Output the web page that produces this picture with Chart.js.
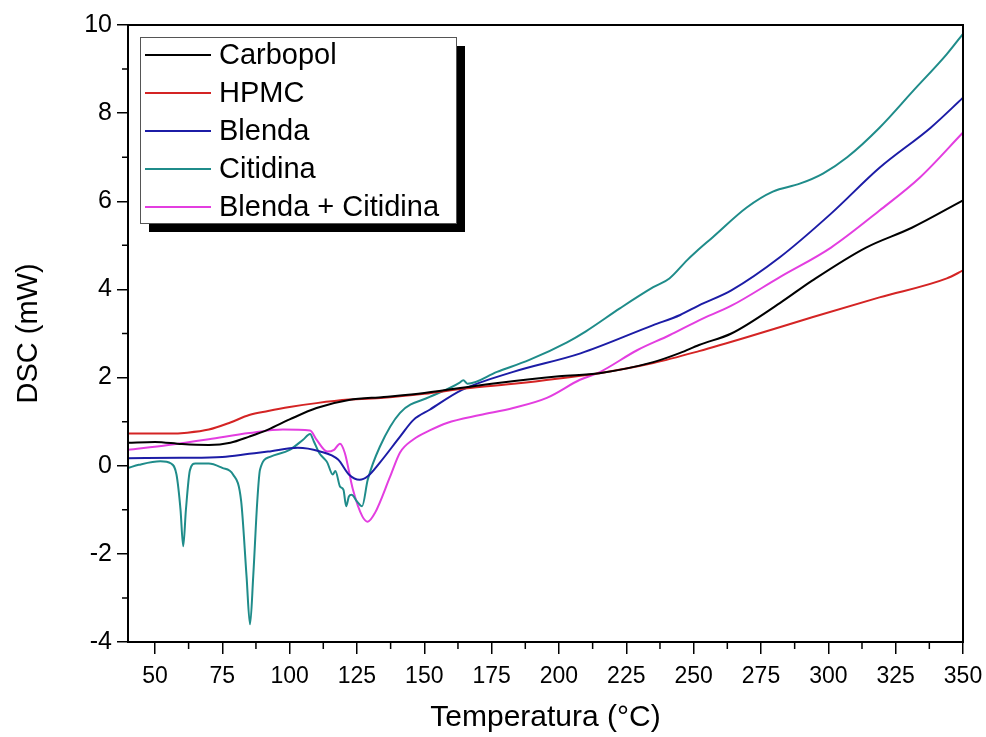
<!DOCTYPE html>
<html>
<head>
<meta charset="utf-8">
<script src="https://cdn.jsdelivr.net/npm/chart.js@4.4.1/dist/chart.umd.min.js"></script>
<style>
  html, body { margin: 0; background: #fff; }
  #wrap { width: 986px; height: 737px; }
</style>
</head>
<body>
<div id="wrap"><canvas id="dscChart"></canvas></div>
<script>
// values (temperature in °C, heat flow in mW)
const seriesNames = ['Carbopol', 'HPMC', 'Blenda', 'Citidina', 'Blenda + Citidina'];

const carbopolT = [40, 50, 60, 70, 78, 85, 92, 100, 110, 122, 135, 150, 175, 200, 215, 235, 245, 252, 264, 282, 294, 314, 331, 350];
const carbopolV = [0.52, 0.54, 0.49, 0.47, 0.52, 0.66, 0.82, 1.05, 1.31, 1.49, 1.56, 1.65, 1.86, 2.03, 2.1, 2.35, 2.56, 2.74, 3.0, 3.69, 4.2, 4.95, 5.4, 6.02];

const hpmcT = [40, 55, 62, 70, 78, 85, 92, 100, 110, 122, 135, 150, 165, 185, 200, 215, 235, 252, 270, 294, 319, 344, 350];
const hpmcV = [0.73, 0.73, 0.75, 0.82, 0.98, 1.15, 1.24, 1.33, 1.42, 1.5, 1.54, 1.63, 1.75, 1.87, 1.98, 2.1, 2.33, 2.6, 2.92, 3.37, 3.82, 4.25, 4.43];

const blendaT = [40, 60, 75, 85, 92, 103, 111, 118, 122, 126, 129, 133.5, 141, 146, 152, 164, 183, 208, 235, 245, 252, 264, 282, 301, 319, 338, 350];
const blendaV = [0.17, 0.18, 0.2, 0.27, 0.32, 0.41, 0.33, 0.14, -0.2, -0.32, -0.24, 0.07, 0.66, 1.04, 1.27, 1.72, 2.13, 2.55, 3.19, 3.42, 3.64, 3.98, 4.73, 5.72, 6.76, 7.67, 8.35];

const citidinaT = [40, 44, 52, 56, 58, 59.5, 60.5, 61.5, 63, 65, 70, 75, 79, 82, 84, 85.3, 86.5, 88, 89, 92.7, 100, 105, 107.6, 109, 111, 113, 114, 116, 117, 118.7, 120, 121, 122, 123, 125, 126.9, 129, 133.5, 141, 152, 160, 163, 164.5, 166, 177, 189, 203, 210, 222.6, 235, 241, 247.5, 251, 257, 269.7, 279.4, 289.4, 298, 307, 319, 331.4, 344, 350];
const citidinaV = [-0.05, 0.02, 0.1, 0.05, -0.2, -1.0, -1.83, -1.0, -0.1, 0.05, 0.05, -0.05, -0.2, -0.8, -2.5, -3.6, -2.5, -0.8, -0.09, 0.2, 0.36, 0.59, 0.72, 0.55, 0.29, 0.15, 0.07, -0.2, -0.12, -0.47, -0.55, -0.92, -0.7, -0.66, -0.81, -0.92, -0.32, 0.43, 1.2, 1.56, 1.78, 1.88, 1.94, 1.86, 2.13, 2.4, 2.8, 3.05, 3.57, 4.05, 4.25, 4.66, 4.86, 5.18, 5.86, 6.22, 6.4, 6.63, 7.0, 7.67, 8.5, 9.34, 9.8];

const mixT = [40, 55, 70, 85, 97.5, 107.6, 110, 114, 116.5, 118.7, 120.5, 123.5, 127, 129, 131.7, 137.3, 141, 145.8, 152, 158.4, 170.7, 183, 195.5, 207.8, 215, 229, 241, 252, 264, 282, 301, 319, 334, 350];
const mixV = [0.36, 0.47, 0.6, 0.74, 0.82, 0.8, 0.59, 0.32, 0.36, 0.5, 0.29, -0.54, -1.15, -1.27, -1.07, -0.25, 0.3, 0.59, 0.8, 0.97, 1.15, 1.31, 1.54, 1.95, 2.12, 2.62, 2.96, 3.3, 3.63, 4.28, 4.95, 5.79, 6.54, 7.56];

const xTickLabels = [50, 75, 100, 125, 150, 175, 200, 225, 250, 275, 300, 325, 350];
const yTickLabels = [-4, -2, 0, 2, 4, 6, 8, 10];

const colors = ['#000000', '#d42424', '#1c1ca6', '#1f8c8a', '#e33ee0'];

function pts(t, v) { return t.map((x, i) => ({ x: x, y: v[i] })); }

const seriesData = [
  pts(carbopolT, carbopolV),
  pts(hpmcT, hpmcV),
  pts(blendaT, blendaV),
  pts(citidinaT, citidinaV),
  pts(mixT, mixV)
];

const sans = "'Liberation Sans', Arial, sans-serif";

// frame around the plot + minor ticks
const framePlugin = {
  id: 'frame',
  afterDraw(chart) {
    const { ctx, chartArea: a, scales } = chart;
    ctx.save();
    ctx.strokeStyle = '#000';
    ctx.lineWidth = 2;
    ctx.strokeRect(a.left, a.top, a.right - a.left, a.bottom - a.top);
    ctx.lineWidth = 1.5;
    ctx.beginPath();
    for (let v = 62.5; v < 350; v += 25) {
      const px = scales.x.getPixelForValue(v);
      ctx.moveTo(px, a.bottom);
      ctx.lineTo(px, a.bottom + 7);
    }
    for (let v = -3; v < 10; v += 2) {
      const py = scales.y.getPixelForValue(v);
      ctx.moveTo(a.left, py);
      ctx.lineTo(a.left - 6, py);
    }
    ctx.stroke();
    ctx.restore();
  }
};

// boxed legend with a drop shadow, top left of the plot
const legendPlugin = {
  id: 'boxLegend',
  afterDraw(chart) {
    const { ctx, chartArea: a } = chart;
    const x0 = a.left + 12, y0 = a.top + 12, w = 316, h = 186;
    ctx.save();
    ctx.fillStyle = '#000';
    ctx.fillRect(x0 + 9, y0 + 9, w, h);
    ctx.fillStyle = '#fff';
    ctx.fillRect(x0, y0, w, h);
    ctx.strokeStyle = '#555';
    ctx.lineWidth = 1;
    ctx.strokeRect(x0 + 0.5, y0 + 0.5, w, h);
    ctx.font = '29px ' + sans;
    ctx.textBaseline = 'middle';
    chart.data.datasets.forEach((ds, i) => {
      const cy = y0 + 18 + i * 38;
      ctx.strokeStyle = ds.borderColor;
      ctx.lineWidth = 2;
      ctx.beginPath();
      ctx.moveTo(x0 + 5, cy);
      ctx.lineTo(x0 + 71, cy);
      ctx.stroke();
      ctx.fillStyle = '#000';
      ctx.fillText(ds.label, x0 + 79, cy + 1);
    });
    ctx.restore();
  }
};

new Chart(document.getElementById('dscChart'), {
  type: 'line',
  data: {
    datasets: seriesNames.map((name, i) => ({
      label: name,
      data: seriesData[i],
      borderColor: colors[i],
      borderWidth: 2,
      pointRadius: 0,
      cubicInterpolationMode: 'monotone',
      fill: false
    }))
  },
  options: {
    animation: false,
    responsive: true,
    maintainAspectRatio: false,
    layout: { padding: { top: 25, right: 23, left: 0, bottom: 0 } },
    plugins: { legend: { display: false }, tooltip: { enabled: false } },
    scales: {
      x: {
        type: 'linear',
        min: 40,
        max: 350,
        afterBuildTicks(scale) { scale.ticks = xTickLabels.map(v => ({ value: v })); },
        afterFit(scale) { scale.height = 95; scale.paddingRight = 0; scale.paddingLeft = 0; },
        grid: { drawOnChartArea: false, drawTicks: true, tickLength: 12, color: '#000', lineWidth: 1.5 },
        border: { display: true, color: '#000', width: 2 },
        ticks: { color: '#000', padding: 9, maxRotation: 0, font: { family: sans, size: 23 } },
        title: { display: true, text: 'Temperatura (°C)', color: '#000', padding: { bottom: 1 }, font: { family: sans, size: 30 } }
      },
      y: {
        min: -4,
        max: 10,
        afterBuildTicks(scale) { scale.ticks = yTickLabels.map(v => ({ value: v })); },
        afterFit(scale) { scale.width = 128; scale.paddingTop = 0; scale.paddingBottom = 0; },
        grid: { drawOnChartArea: false, drawTicks: true, tickLength: 11, color: '#000', lineWidth: 1.5 },
        border: { display: true, color: '#000', width: 2 },
        ticks: { color: '#000', padding: 5, font: { family: sans, size: 25 } },
        title: { display: true, text: 'DSC (mW)', color: '#000', padding: { top: 12 }, font: { family: sans, size: 29 } }
      }
    }
  },
  plugins: [framePlugin, legendPlugin]
});
</script>
</body>
</html>
